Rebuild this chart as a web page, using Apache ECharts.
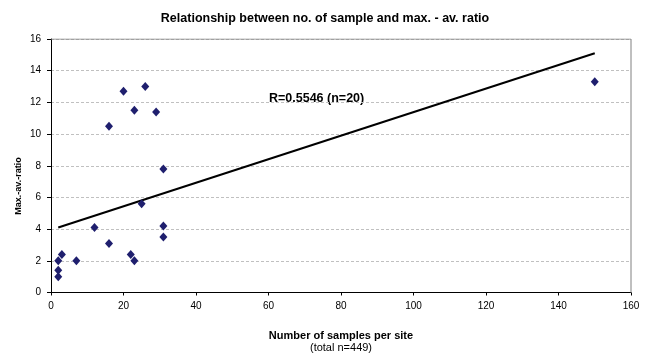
<!DOCTYPE html>
<html>
<head>
<meta charset="utf-8">
<script src="https://cdn.jsdelivr.net/npm/echarts@6/dist/echarts.min.js"></script>
<style>
  html, body { margin: 0; padding: 0; background: #fff; }
  #chart { width: 650px; height: 358px; }
</style>
</head>
<body>
<div id="chart"></div>
<script>
// samples per site vs max.-av. ratio
const samples = [2, 2, 2, 3, 7, 12, 16, 22, 23, 25, 31, 31, 31, 16, 20, 23, 26, 29, 150];
const ratios = [1.0, 1.4, 2.0, 2.4, 2.0, 4.1, 3.1, 2.4, 2.0, 5.6, 7.8, 4.2, 3.5, 10.5, 12.7, 11.5, 13.0, 11.4, 13.3];
// regression line end points
const trendX = [2, 150];
const trendY = [4.1, 15.1];

const points = samples.map((x, i) => [x, ratios[i]]);
const trend = trendX.map((x, i) => [x, trendY[i]]);

const chart = echarts.init(document.getElementById('chart'));
const FONT = 'Liberation Sans, Arial, sans-serif';

chart.setOption({
  animation: false,
  textStyle: { fontFamily: FONT },
  title: {
    text: 'Relationship between no. of sample and max. - av. ratio',
    left: 'center',
    top: 7,
    textStyle: { fontSize: 12.5, fontWeight: 'bold', color: '#000', fontFamily: FONT }
  },
  grid: { left: 51, right: 19, top: 39, bottom: 63, show: false },
  xAxis: {
    type: 'value',
    min: 0, max: 160, interval: 20,
    name: '{b|Number of samples per site}\n{n|(total n=449)}',
    nameLocation: 'middle',
    nameGap: 37,
    nameTextStyle: {
      rich: {
        b: { fontSize: 11, fontWeight: 'bold', color: '#000', fontFamily: FONT, lineHeight: 12 },
        n: { fontSize: 11, color: '#000', fontFamily: FONT, lineHeight: 12 }
      }
    },
    axisLine: { onZero: false, lineStyle: { color: '#000', width: 1 } },
    axisTick: { inside: false, length: 3, lineStyle: { color: '#000' } },
    axisLabel: { color: '#000', fontSize: 10, margin: 9 },
    splitLine: { show: false }
  },
  yAxis: {
    type: 'value',
    min: 0, max: 16, interval: 2,
    axisLine: { show: true, lineStyle: { color: '#000', width: 1 } },
    axisTick: { show: true, length: 4, lineStyle: { color: '#000' } },
    axisLabel: { color: '#000', fontSize: 10, margin: 10 },
    splitLine: { show: true, lineStyle: { color: '#c0c0c0', type: [3, 2], width: 1 } }
  },
  series: [
    {
      type: 'line',
      data: trend,
      symbol: 'none',
      lineStyle: { color: '#000', width: 2 },
      z: 3
    },
    {
      type: 'scatter',
      data: points,
      symbol: 'diamond',
      symbolSize: [8, 9],
      itemStyle: { color: '#1f1f6e', opacity: 1 },
      z: 4
    },
    {
      // top and right frame lines
      type: 'line',
      data: [[0, 16], [160, 16], [160, 0]],
      symbol: 'none',
      lineStyle: { color: '#808080', width: 1 },
      silent: true,
      z: 1
    }
  ],
  graphic: [
    {
      type: 'text',
      left: 269,
      top: 92,
      style: {
        text: 'R=0.5546 (n=20)',
        font: 'bold 12.5px ' + FONT,
        fill: '#000'
      }
    },
    {
      type: 'text',
      x: 19,
      y: 186,
      rotation: Math.PI / 2,
      style: {
        text: 'Max.-av.-ratio',
        font: 'bold 9px ' + FONT,
        fill: '#000',
        align: 'center',
        verticalAlign: 'middle'
      }
    }
  ]
});
</script>
</body>
</html>
